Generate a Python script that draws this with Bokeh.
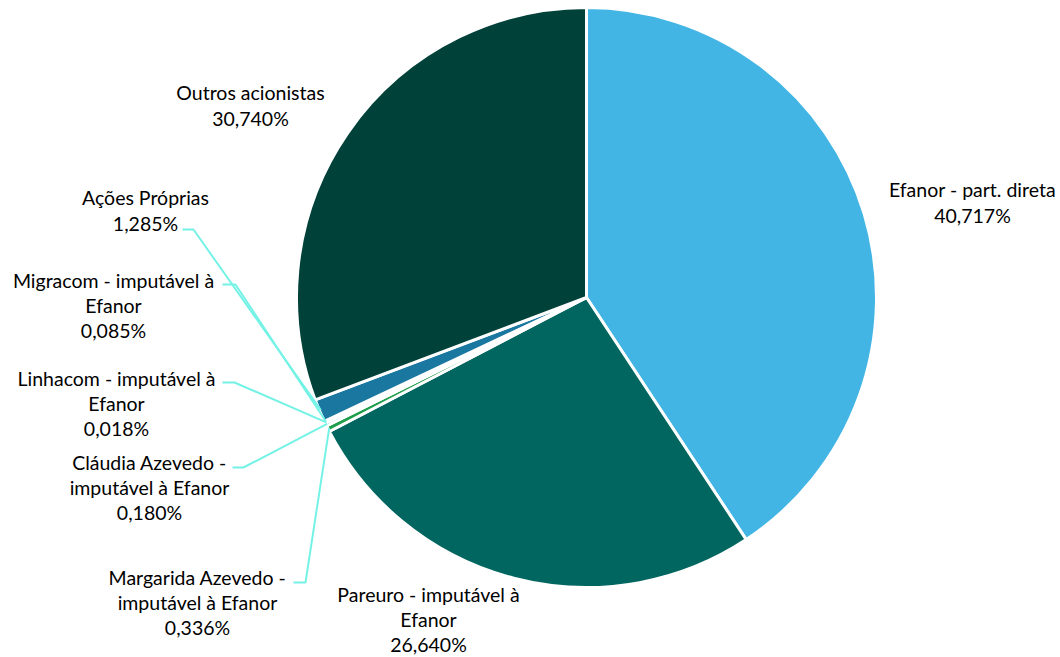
import math
from bokeh.plotting import figure
from bokeh.models import Range1d, ColumnDataSource
from bokeh.core.properties import value
from bokeh.embed import file_html
from bokeh.resources import INLINE

# ---- data ----
names = [
    "Efanor - part. direta",
    "Pareuro - imputável à\nEfanor",
    "Margarida Azevedo -\nimputável à Efanor",
    "Cláudia Azevedo -\nimputável à Efanor",
    "Linhacom - imputável à\nEfanor",
    "Migracom - imputável à\nEfanor",
    "Ações Próprias",
    "Outros acionistas",
]
shares = [40.717, 26.640, 0.336, 0.180, 0.018, 0.085, 1.285, 30.740]
colors = ["#42B5E5", "#00665F", "#1E9E4A", "#14A9A0", "#35BFC0", "#5CC8DC", "#1A77A0", "#00413A"]

# ---- layout (page pixel coordinates) ----
W, H = 1060, 657
def X(px): return px
def Y(py): return H - py

CX, CY, R = 586, 297, 290
label_pos = [(972, 202), (428, 619), (197, 602), (149, 487), (116, 403), (113, 305), (145, 210), (250, 105)]
# leader lines: (start x, end of horizontal x, y) for small slices, None otherwise
leaders = [None, None, (293, 305, 582), (232, 243, 467), (222, 234, 382), (222, 235, 284), (182, 193, 229), None]

p = figure(width=W, height=H, x_range=Range1d(0, W), y_range=Range1d(0, H),
           output_backend="svg", toolbar_location=None, min_border=0)
p.axis.visible = False
p.grid.visible = False
p.outline_line_color = None
p.background_fill_color = "white"
p.border_fill_color = "white"

total = sum(shares)
starts, ends, mids = [], [], []
cum = 0.0
for v in shares:
    f0 = cum / total
    cum += v
    f1 = cum / total
    starts.append(math.pi / 2 - f1 * 2 * math.pi)
    ends.append(math.pi / 2 - f0 * 2 * math.pi)
    mids.append((f0 + f1) / 2)

src = ColumnDataSource(dict(start=starts, end=ends, color=colors))
p.wedge(x=X(CX), y=Y(CY), radius=R, radius_units="screen", start_angle="start", end_angle="end",
        fill_color="color", line_color="white", line_width=3, source=src)

# leader lines
lxs, lys = [], []
for i, ld in enumerate(leaders):
    if ld is None:
        continue
    th = mids[i] * 2 * math.pi
    ex = CX + R * 0.995 * math.sin(th)
    ey = CY - R * 0.995 * math.cos(th)
    sx, hx, yy = ld
    lxs.append([X(sx), X(hx), X(ex)])
    lys.append([Y(yy), Y(yy), Y(ey)])
p.multi_line(xs=lxs, ys=lys, line_color="#74F2E6", line_width=2)

texts = [n + "\n" + f"{v:.3f}".replace(".", ",") + "%" for n, v in zip(names, shares)]
tsrc = ColumnDataSource(dict(x=[X(a) for a, b in label_pos], y=[Y(b) for a, b in label_pos], t=texts))
p.text(x="x", y="y", text="t", source=tsrc, text_align="center", text_baseline="middle",
       text_font=value("Lato"), text_font_size="19.5px", text_line_height=1.1, text_color="#000000")

open("out.html", "w").write(file_html(p, INLINE))
